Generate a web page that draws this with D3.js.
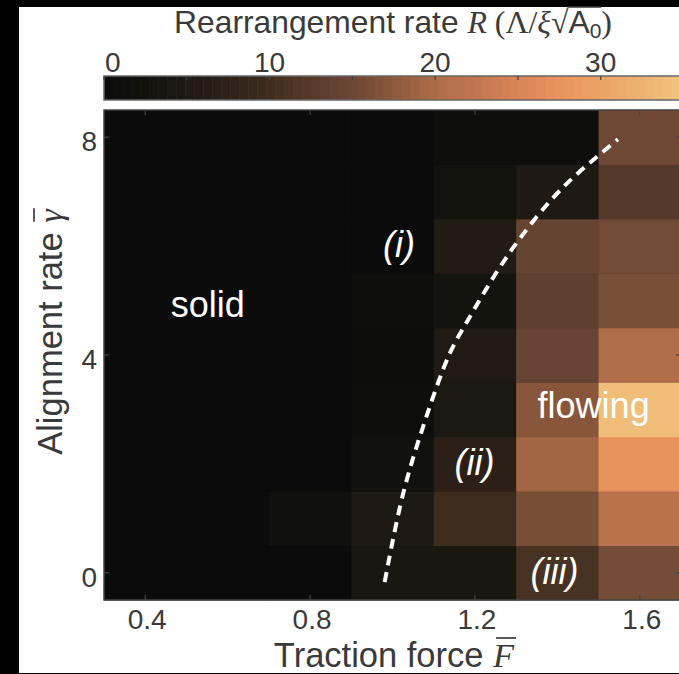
<!DOCTYPE html>
<html><head><meta charset="utf-8">
<script src="https://cdn.jsdelivr.net/npm/d3@7"></script>
<style>body{margin:0;background:#fff}svg{display:block}</style>
</head><body>
<script>
// ---------- data ----------
const forceValues = [0.4, 0.6, 0.8, 1.0, 1.2, 1.4, 1.6];
const gammaValues = [0, 1, 2, 3, 4, 5, 6, 7, 8];
// rearrangement rate R, one array per alignment rate (columns follow forceValues)
const rateGamma0 = [0, 0, 0, 4, 4, 11, 15.8];
const rateGamma1 = [0, 0, 1.5, 5, 10, 16, 21.5];
const rateGamma2 = [0, 0, 0, 2, 7, 19.2, 27.3];
const rateGamma3 = [0, 0, 0, 1, 4.2, 17.2, 34];
const rateGamma4 = [0, 0, 0, 0.2, 5.2, 14.6, 20.2];
const rateGamma5 = [0, 0, 0, 1, 2.8, 13.6, 16.2];
const rateGamma6 = [0, 0, 0, 0, 5.5, 14.5, 15.6];
const rateGamma7 = [0, 0, 0, 0, 2.5, 5, 12.2];
const rateGamma8 = [0, 0, 0, 0, 0.8, 0.8, 15.3];
const rateRows = [rateGamma0, rateGamma1, rateGamma2, rateGamma3, rateGamma4, rateGamma5, rateGamma6, rateGamma7, rateGamma8];

// colormap
const cmapStops = [0, 2.5, 5, 7.5, 10, 12.5, 15, 17.5, 20, 22.5, 25, 27.5, 30, 32.5, 34.85];
const cmapColors = ["#0b0b0b", "#13130e", "#1f1913", "#2e2118", "#3e2c1f", "#573a2b", "#6a4634", "#8c593c",
                    "#ae6c48", "#c27650", "#d98458", "#e9935f", "#eba266", "#edb372", "#f2c47c"];
const colorbarTicks = [0, 5, 10, 15, 20, 25, 30];
const colorbarLabels = [0, 10, 20, 30];
const xTicks = [0.4, 0.8, 1.2, 1.6];
const yTicks = [0, 4, 8];

// phase boundary (dashed)
const boundaryF = [0.981, 1.025, 1.078, 1.139, 1.183, 1.256, 1.312, 1.385, 1.450, 1.547];
const boundaryGamma = [-0.17, 1.43, 2.77, 4.03, 4.64, 5.56, 6.17, 6.85, 7.34, 7.96];

// annotations (position = text centre / baseline, in data units)
const annoText = ["solid", "(i)", "(ii)", "(iii)", "flowing"];
const annoF = [0.552, 1.016, 1.199, 1.393, 1.488];
const annoGamma = [4.70, 5.80, 1.80, -0.21, 2.84];
const annoItalic = [false, true, true, true, false];

// ---------- layout ----------
const W = 679, H = 674;
const plotL = 104, plotR = 681, plotT = 110, plotB = 600;
const cbT = 76, cbB = 100;
const axisColor = "#444";
const textColor = "#3a3a3a";
const FONT = "'Liberation Sans', Arial, Helvetica, sans-serif";
const SERIF = "'Liberation Serif', 'Times New Roman', serif";

const svg = d3.select("body").append("svg").attr("width", W).attr("height", H);
svg.append("rect").attr("width", W).attr("height", H).attr("fill", "#fff");
// black border strips from the original crop
svg.append("rect").attr("x", 0).attr("y", 0).attr("width", 19).attr("height", H).attr("fill", "#000");
svg.append("rect").attr("x", 0).attr("y", 0).attr("width", W).attr("height", 7).attr("fill", "#000");

const x = d3.scaleLinear().domain([0.3, 1.7]).range([plotL, plotR]);
const y = d3.scaleLinear().domain([-0.5, 8.5]).range([plotB, plotT]);
const color = d3.scaleLinear().domain(cmapStops).range(cmapColors).clamp(true);
const cbScale = d3.scaleLinear().domain([0, 34.85]).range([plotL, plotR]);

// ---------- heatmap ----------
const cells = [];
rateRows.forEach((row, gi) => row.forEach((v, fi) => cells.push({F: forceValues[fi], g: gammaValues[gi], v})));
const plot = svg.append("g");
plot.append("rect").attr("x", plotL).attr("y", plotT).attr("width", plotR - plotL).attr("height", plotB - plotT).attr("fill", cmapColors[0]);
plot.selectAll("rect.cell").data(cells).join("rect").attr("class", "cell")
  .attr("x", d => x(d.F - 0.1))
  .attr("y", d => y(d.g + 0.5))
  .attr("width", d => x(d.F + 0.1) - x(d.F - 0.1) + 0.5)
  .attr("height", d => y(d.g - 0.5) - y(d.g + 0.5) + 0.5)
  .attr("fill", d => color(d.v));

// dashed boundary
const line = d3.line().x(d => x(d[0])).y(d => y(d[1])).curve(d3.curveCatmullRom.alpha(0.5));
plot.append("path").datum(boundaryF.map((f, i) => [f, boundaryGamma[i]]))
  .attr("d", line).attr("fill", "none").attr("stroke", "#fff")
  .attr("stroke-width", 4).attr("stroke-dasharray", "10,7");

// annotations
plot.selectAll("text.anno").data(annoText).join("text").attr("class", "anno")
  .attr("x", (d, i) => x(annoF[i])).attr("y", (d, i) => y(annoGamma[i]))
  .attr("text-anchor", "middle").attr("fill", "#fff")
  .attr("font-family", FONT).attr("font-size", 36)
  .attr("font-style", (d, i) => annoItalic[i] ? "italic" : "normal")
  .text(d => d);

// frame + ticks
const frame = svg.append("g");
frame.append("rect").attr("x", plotL).attr("y", plotT).attr("width", plotR - plotL).attr("height", plotB - plotT)
  .attr("fill", "none").attr("stroke", axisColor).attr("stroke-width", 1.5);
const tl = 5;
xTicks.forEach(t => {
  frame.append("line").attr("x1", x(t)).attr("x2", x(t)).attr("y1", plotB).attr("y2", plotB - tl).attr("stroke", axisColor).attr("stroke-width", 1.2);
  frame.append("line").attr("x1", x(t)).attr("x2", x(t)).attr("y1", plotT).attr("y2", plotT + tl).attr("stroke", axisColor).attr("stroke-width", 1.2);
});
yTicks.forEach(t => {
  frame.append("line").attr("x1", plotL).attr("x2", plotL + tl).attr("y1", y(t)).attr("y2", y(t)).attr("stroke", axisColor).attr("stroke-width", 1.2);
  frame.append("line").attr("x1", plotR).attr("x2", plotR - tl).attr("y1", y(t)).attr("y2", y(t)).attr("stroke", axisColor).attr("stroke-width", 1.2);
});
frame.selectAll("text.xt").data(xTicks).join("text").attr("class", "xt")
  .attr("x", d => x(d) + 2).attr("y", 629).attr("text-anchor", "middle")
  .attr("font-family", FONT).attr("font-size", 28).attr("fill", textColor).text(d => d3.format(".1f")(d));
frame.selectAll("text.yt").data(yTicks).join("text").attr("class", "yt")
  .attr("x", 97).attr("y", d => y(d) + 14).attr("text-anchor", "end")
  .attr("font-family", FONT).attr("font-size", 28).attr("fill", textColor).text(d => d);

// x axis title
const xt = svg.append("text").attr("x", 394).attr("y", 667).attr("text-anchor", "middle")
  .attr("font-family", FONT).attr("font-size", 34.5).attr("fill", textColor);
xt.append("tspan").text("Traction force ");
xt.append("tspan").attr("font-family", SERIF).attr("font-style", "italic").text("F");
{
  const n = xt.node(); const k = n.getNumberOfChars() - 1; const e = n.getExtentOfChar(k);
  svg.append("line").attr("x1", e.x + 3).attr("x2", e.x + e.width + 2).attr("y1", 667 - 29).attr("y2", 667 - 29)
    .attr("stroke", textColor).attr("stroke-width", 1.7);
}
// y axis title
const yg = svg.append("g").attr("transform", "translate(62,332) rotate(-90)");
const ytt = yg.append("text").attr("x", 0).attr("y", 0).attr("text-anchor", "middle")
  .attr("font-family", FONT).attr("font-size", 34.5).attr("fill", textColor);
ytt.append("tspan").text("Alignment rate ");
ytt.append("tspan").attr("font-family", SERIF).attr("font-style", "italic").text("γ");
{
  const n = ytt.node(); const k = n.getNumberOfChars() - 1; const e = n.getExtentOfChar(k);
  yg.append("line").attr("x1", e.x + 1).attr("x2", e.x + e.width + 1).attr("y1", -28).attr("y2", -28)
    .attr("stroke", textColor).attr("stroke-width", 1.7);
}

// ---------- colour bar ----------
const cb = svg.append("g");
const nStrips = 64;
const strips = d3.range(nStrips).map(i => ({a: i * 34.85 / nStrips, b: (i + 1) * 34.85 / nStrips}));
cb.selectAll("rect.s").data(strips).join("rect").attr("class", "s")
  .attr("x", d => cbScale(d.a)).attr("y", cbT)
  .attr("width", d => cbScale(d.b) - cbScale(d.a) + 0.6).attr("height", cbB - cbT)
  .attr("fill", d => color((d.a + d.b) / 2));
cb.append("rect").attr("x", plotL).attr("y", cbT).attr("width", plotR - plotL).attr("height", cbB - cbT)
  .attr("fill", "none").attr("stroke", "#666").attr("stroke-width", 1.5);
colorbarTicks.forEach(t => {
  cb.append("line").attr("x1", cbScale(t)).attr("x2", cbScale(t)).attr("y1", cbT).attr("y2", cbT + 4)
    .attr("stroke", axisColor).attr("stroke-width", 1.2);
});
cb.selectAll("text.ct").data(colorbarLabels).join("text").attr("class", "ct")
  .attr("x", d => d === 0 ? cbScale(d) + 1 : cbScale(d)).attr("y", 72)
  .attr("text-anchor", d => d === 0 ? "start" : "middle")
  .attr("font-family", FONT).attr("font-size", 28).attr("fill", textColor).text(d => d);

// colour bar title
const ct = svg.append("text").attr("x", 393).attr("y", 33).attr("text-anchor", "middle")
  .attr("font-family", FONT).attr("font-size", 31.8).attr("fill", textColor);
ct.append("tspan").text("Rearrangement rate ");
ct.append("tspan").attr("font-family", SERIF).attr("font-style", "italic").text("R");
ct.append("tspan").attr("font-family", SERIF).text(" (Λ/");
ct.append("tspan").attr("font-family", SERIF).attr("font-style", "italic").text("ξ");
ct.append("tspan").attr("font-family", SERIF).text("√");
ct.append("tspan").text("A");
ct.append("tspan").attr("font-size", 21).attr("dy", 5).text("0");
ct.append("tspan").attr("font-family", SERIF).attr("dy", -5).text(")");
{
  const n = ct.node(); const N = n.getNumberOfChars();
  const eA = n.getExtentOfChar(N - 3), e0 = n.getExtentOfChar(N - 2);
  svg.append("line").attr("x1", eA.x - 1).attr("x2", e0.x + e0.width).attr("y1", 33 - 26).attr("y2", 33 - 26)
    .attr("stroke", textColor).attr("stroke-width", 1.4);
}
// bottom black line from the crop
svg.append("rect").attr("x", 0).attr("y", H - 1).attr("width", W).attr("height", 1).attr("fill", "#000");
</script>
</body></html>
